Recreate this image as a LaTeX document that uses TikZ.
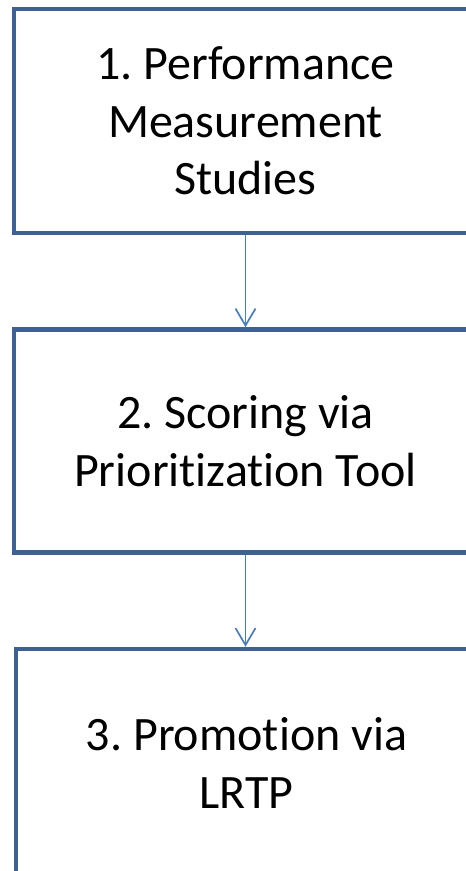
\documentclass[tikz,border=0pt]{standalone}
\usepackage{fontspec}
\setmainfont{Carlito}[Ligatures={NoCommon}]
\usetikzlibrary{arrows.meta}
\definecolor{boxline}{HTML}{3D6193}
\definecolor{arrowline}{HTML}{4A7EBB}
\frenchspacing
\begin{document}
\begin{tikzpicture}[x=1pt,y=-1pt,
  stage/.style={draw=boxline, line width=4.5pt, fill=white, rectangle,
    minimum width=463pt, minimum height=224pt, align=center, inner sep=0pt,
    font=\fontsize{48}{57.5}\selectfont},
  flow/.style={draw=arrowline, line width=1.7pt,
    -{Straight Barb[length=17pt,width=20pt]}}]
\useasboundingbox (0,0) rectangle (466,871);
\clip (0,0) rectangle (466,871);
\node[stage] (s1) at (245.5,121) {1. Performance\\Measurement\\Studies};
\node[stage, minimum height=223pt] (s2) at (245.5,441) {2. Scoring via\\Prioritization Tool};
\node[stage, minimum height=228pt, minimum width=461pt] (s3) at (246.5,763) {3. Promotion via\\LRTP};
\draw[flow] (s1.south) -- (s2.north);
\draw[flow] (s2.south) -- (s2.south |- s3.north);
\end{tikzpicture}
\end{document}
